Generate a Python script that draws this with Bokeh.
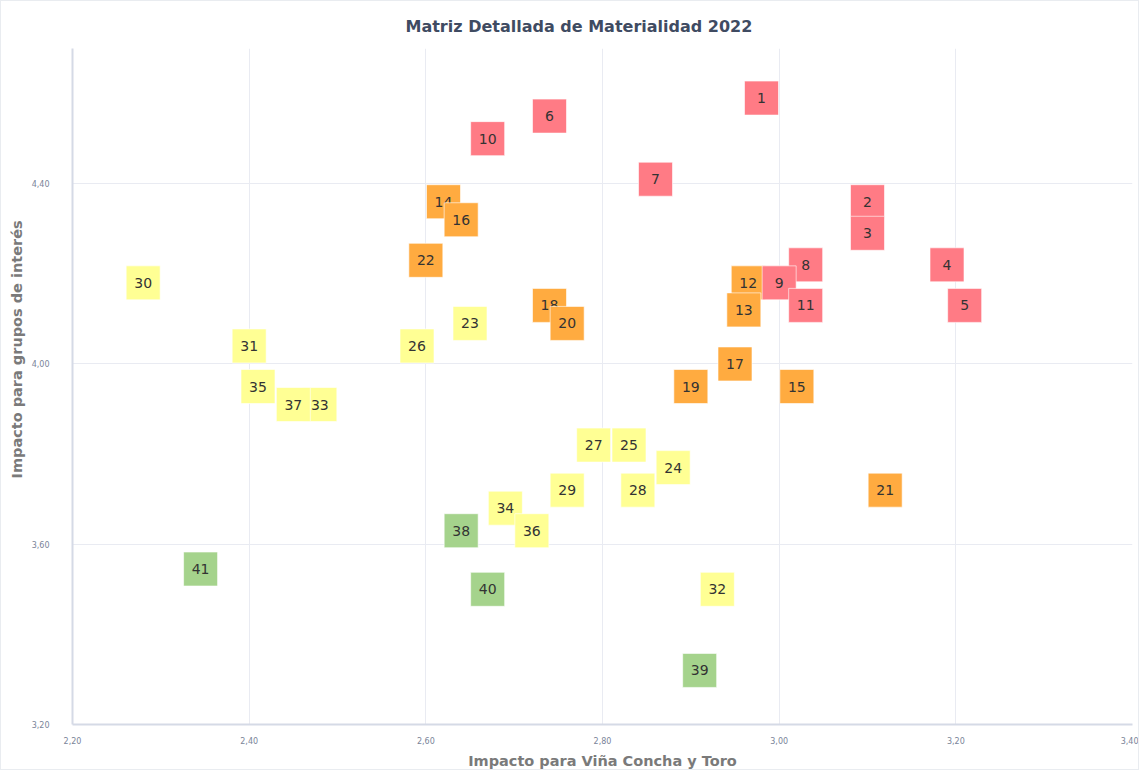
from bokeh.plotting import figure
from bokeh.models import ColumnDataSource, FixedTicker, CustomJSTickFormatter, Range1d, Title
from bokeh.core.properties import value
from bokeh.embed import file_html
from bokeh.resources import INLINE

# ---- data ----
ids = [1, 2, 3, 4, 5, 6, 7, 8, 9, 10, 11,
       12, 13, 14, 15, 16, 17, 18, 19, 20, 21, 22,
       23, 24, 25, 26, 27, 28, 29, 30, 31, 32, 33, 34, 35, 36, 37,
       38, 39, 40, 41]
impact_company = [2.98, 3.10, 3.10, 3.19, 3.21, 2.74, 2.86, 3.03, 3.00, 2.67, 3.03,
                  2.965, 2.96, 2.62, 3.02, 2.64, 2.95, 2.74, 2.90, 2.76, 3.12, 2.60,
                  2.65, 2.88, 2.83, 2.59, 2.79, 2.84, 2.76, 2.28, 2.40, 2.93, 2.48, 2.69, 2.41, 2.72, 2.45,
                  2.64, 2.91, 2.67, 2.345]
impact_stakeholders = [4.59, 4.36, 4.29, 4.22, 4.13, 4.55, 4.41, 4.22, 4.18, 4.50, 4.13,
                       4.18, 4.12, 4.36, 3.95, 4.32, 4.00, 4.13, 3.95, 4.09, 3.72, 4.23,
                       4.09, 3.77, 3.82, 4.04, 3.82, 3.72, 3.72, 4.18, 4.04, 3.50, 3.91, 3.68, 3.95, 3.63, 3.91,
                       3.63, 3.32, 3.50, 3.545]
groups = ["alta"] * 11 + ["media"] * 11 + ["baja"] * 15 + ["minima"] * 4
group_colors = {"alta": "#ff7b85", "media": "#ffab40", "baja": "#ffff94", "minima": "#a5d38c"}
draw_order = ["minima", "baja", "media", "alta"]

x_ticks = [2.2, 2.4, 2.6, 2.8, 3.0, 3.2, 3.4]
y_ticks = [3.2, 3.6, 4.0, 4.4]

FONT = "DejaVu Sans"

p = figure(width=1139, height=770, output_backend="svg", toolbar_location=None,
           x_range=Range1d(2.2, 3.4), y_range=Range1d(3.2, 4.7),
           min_border_left=71, min_border_right=8, min_border_top=46, min_border_bottom=36)
p.styles = {"border": "1px solid #e9ecf0"}

t = Title(text="Matriz Detallada de Materialidad 2022", align="left", offset=333,
          text_font=FONT, text_font_size="16px", text_font_style="bold",
          text_color="#3f4b62", standoff=26)
p.add_layout(t, "above")

ytitle = Title(text="Impacto para grupos de interés", align="left", offset=246,
               text_font=FONT, text_font_size="14.5px", text_font_style="bold",
               text_color="#7a7a7a", standoff=8)
p.add_layout(ytitle, "left")

p.outline_line_color = None
p.background_fill_color = "white"
p.border_fill_color = "white"

fmt = CustomJSTickFormatter(code="return tick.toFixed(2).replace('.', ',');")
for ax, ticks in ((p.xaxis[0], x_ticks), (p.yaxis[0], y_ticks)):
    ax.ticker = FixedTicker(ticks=ticks)
    ax.formatter = fmt
    ax.major_tick_line_color = None
    ax.minor_tick_line_color = None
    ax.axis_line_color = "#d5dae6"
    ax.axis_line_width = 2
    ax.major_label_text_font = FONT
    ax.major_label_text_font_size = "8px"
    ax.major_label_text_color = "#7a8499"
    ax.axis_label_text_font = FONT
    ax.axis_label_text_font_size = "14.5px"
    ax.axis_label_text_font_style = "bold"
    ax.axis_label_text_color = "#7a7a7a"

p.xaxis.axis_label = "Impacto para Viña Concha y Toro"
p.xaxis.major_label_standoff = 6
p.yaxis.major_label_standoff = 17
p.xaxis.axis_label_standoff = 6

p.xgrid.ticker = FixedTicker(ticks=x_ticks)
p.ygrid.ticker = FixedTicker(ticks=y_ticks)
p.grid.grid_line_color = "#e9ebf2"
p.grid.grid_line_width = 1

for g in draw_order:
    for i, gid in enumerate(ids):
        if groups[i] != g:
            continue
        src = ColumnDataSource(dict(x=[impact_company[i]], y=[impact_stakeholders[i]],
                                    label=[str(gid)]))
        p.scatter("x", "y", source=src, marker="square", size=34,
                  fill_color=group_colors[g], line_color="white", line_alpha=0.6,
                  line_width=1)
        p.text("x", "y", text="label", source=src, text_align="center",
               text_baseline="middle", text_font=value(FONT), text_font_size="14px",
               text_color="#333333")

open("out.html", "w").write(file_html(p, INLINE))
